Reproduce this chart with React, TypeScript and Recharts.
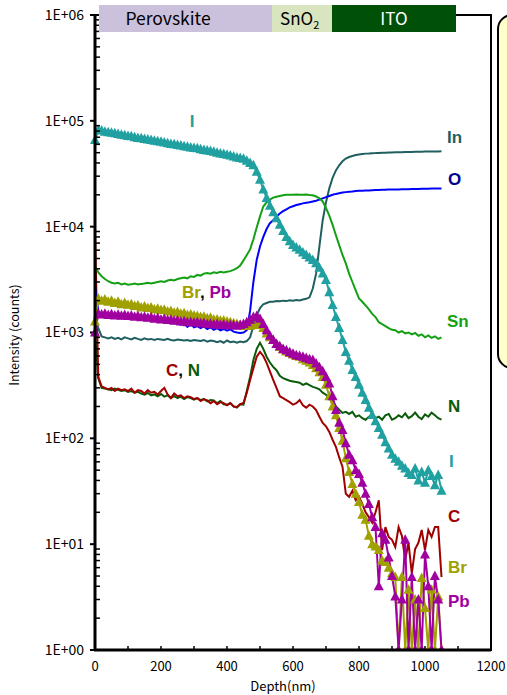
import React from 'react'
import { LineChart, Line, XAxis, YAxis } from 'recharts'

// depth grid (nm)
const depth = [
  0, 10, 20, 30, 40, 50, 60, 70, 80, 90,
  100, 110, 120, 130, 140, 150, 160, 170, 180, 190,
  200, 210, 220, 230, 240, 250, 260, 270, 280, 290,
  300, 310, 320, 330, 340, 350, 360, 370, 380, 390,
  400, 410, 420, 430, 440, 450, 460, 470, 480, 490,
  500, 510, 520, 530, 540, 550, 560, 570, 580, 590,
  600, 610, 620, 630, 640, 650, 660, 670, 680, 690,
  700, 710, 720, 730, 740, 750, 760, 770, 780, 790,
  800, 810, 820, 830, 840, 850, 860, 870, 880, 890,
  900, 910, 920, 930, 940, 950, 960, 970, 980, 990,
  1000, 1010, 1020, 1030, 1040, 1050,
]

const iodine = [
  66000, 82000, 81000, 79000, 78000, 77000, 76500, 75000, 74000, 73000,
  72000, 71500, 70000, 69000, 68500, 67500, 66500, 66000, 65000, 64000,
  63500, 62500, 61500, 60500, 60000, 59000, 58500, 57500, 57000, 56000,
  55500, 55000, 54000, 53000, 52500, 52000, 51000, 50000, 49000, 48500,
  47800, 47000, 46000, 45000, 44500, 43800, 42000, 40000, 38000, 33000,
  27700, 22500, 18700, 15800, 13700, 12000, 10400, 9100, 8000, 7300,
  6700, 6350, 6050, 5700, 5400, 5100, 4850, 4500, 4080, 3600,
  3140, 2400, 1820, 1400, 1100, 850, 656, 540, 443, 380,
  320, 270, 230, 195, 166, 145, 125, 108, 92, 80,
  70, 64, 60, 55, 52, 47, 45, 52, 40, 48,
  38, 50, 44, 36, 45, 32,
]

const indium = [
  1400, 1100, 920, 900, 880, 900, 870, 890, 860, 900,
  880, 860, 890, 870, 850, 880, 860, 870, 850, 870,
  860, 850, 870, 850, 840, 860, 850, 840, 850, 830,
  850, 840, 830, 850, 820, 840, 830, 810, 830, 800,
  840, 810, 820, 800, 820, 810, 830, 900, 1150, 1450,
  1700, 1850, 1900, 1950, 1950, 1980, 1970, 2000, 1980, 2020,
  2000, 2030, 2010, 2050, 2080, 2150, 2600, 3600, 6500, 11500,
  17000, 23000, 29000, 34000, 38000, 41500, 44000, 45500, 46500, 47500,
  48000, 48500, 49000, 49200, 49500, 49600, 49800, 50000, 50000, 50200,
  50300, 50400, 50500, 50500, 50700, 50800, 50800, 51000, 51000, 51100,
  51200, 51200, 51300, 51400, 51400, 51500,
]

const oxygen = [
  2700, 1600, 1420, 1400, 1380, 1400, 1370, 1390, 1360, 1380,
  1350, 1370, 1340, 1360, 1330, 1350, 1320, 1340, 1310, 1330,
  1300, 1280, 1300, 1260, 1240, 1270, 1180, 1220, 1130, 1200,
  1120, 1150, 1100, 1140, 1080, 1120, 1060, 1100, 1050, 1080,
  1040, 1070, 1020, 1000, 990, 1000, 1050, 1600, 3000, 4850,
  6500, 8000, 9500, 10800, 11500, 12500, 13300, 14000, 14600, 15200,
  15600, 16000, 16300, 16600, 16800, 17000, 17300, 17600, 18000, 18500,
  19000, 19500, 20000, 20400, 20700, 21000, 21200, 21400, 21500, 21700,
  21800, 21900, 22000, 22000, 22100, 22200, 22200, 22300, 22300, 22400,
  22400, 22500, 22500, 22600, 22600, 22600, 22700, 22700, 22700, 22800,
  22800, 22800, 22900, 22900, 22900, 23000,
]

const tin = [
  4200, 3700, 3400, 3200, 3050, 2950, 2900, 2950, 2850, 2900,
  2830, 2850, 2900, 2850, 2880, 2900, 2950, 2900, 2950, 3000,
  3050, 3000, 3100, 3150, 3100, 3200, 3250, 3300, 3250, 3400,
  3350, 3500, 3450, 3600, 3650, 3600, 3700, 3650, 3750, 3700,
  3750, 3800, 3900, 4050, 4300, 4800, 5400, 6100, 7600, 9800,
  12500, 15500, 17000, 18000, 18800, 19200, 19500, 19800, 20000, 20000,
  20000, 20100, 20000, 20000, 20100, 19900, 19800, 19300, 18500, 17300,
  15000, 12700, 10400, 8300, 6700, 5400, 4500, 3600, 3000, 2500,
  2100, 1950, 1800, 1650, 1500, 1400, 1250, 1200, 1150, 1100,
  1060, 1050, 1000, 1030, 980, 1000, 960, 990, 930, 960,
  900, 940, 890, 920, 870, 900,
]

const bromine = [
  1270, 2100, 2000, 2050, 1950, 2000, 1900, 1950, 1850, 1900,
  1830, 1850, 1780, 1800, 1720, 1760, 1700, 1720, 1650, 1680,
  1630, 1640, 1580, 1600, 1540, 1560, 1500, 1520, 1460, 1480,
  1450, 1430, 1400, 1410, 1360, 1380, 1320, 1330, 1290, 1300,
  1270, 1250, 1220, 1200, 1180, 1160, 1150, 1160, 1180, 1200,
  1180, 1100, 980, 900, 850, 780, 730, 690, 660, 640,
  620, 600, 590, 560, 540, 520, 494, 460, 420, 380,
  320, 250, 200, 165, 125, 95, 65, 48, 37, 30,
  25, 19, 17, 12, 10, 9.5, 8.8, 7, 6.8, 6,
  5.3, 4.9, 1, 4.9, 1, 3.7, 1, 3, 1, 4.8,
  2.5, 1, 3.7, 1, 3.2, 1,
]

const lead = [
  1000, 1500, 1480, 1500, 1460, 1490, 1450, 1470, 1440, 1460,
  1430, 1450, 1410, 1430, 1390, 1410, 1380, 1390, 1350, 1370,
  1330, 1340, 1310, 1320, 1290, 1300, 1270, 1280, 1250, 1260,
  1240, 1250, 1220, 1230, 1200, 1210, 1190, 1200, 1180, 1190,
  1170, 1180, 1170, 1160, 1180, 1200, 1250, 1320, 1400, 1430,
  1350, 1200, 1050, 930, 850, 780, 740, 700, 680, 650,
  630, 610, 600, 590, 575, 560, 550, 510, 470, 430,
  380, 330, 250, 185, 140, 120, 90, 70, 62, 50,
  46, 38, 30, 24, 18, 14.5, 4, 12.7, 11, 7.5,
  5, 3.2, 1, 3, 11, 1, 4.9, 1, 3, 1,
  8, 4, 1, 5, 3, 1,
]

const carbon = [
  9000, 380, 310, 300, 290, 300, 280, 295, 285, 290,
  280, 295, 270, 285, 280, 265, 285, 270, 275, 260,
  280, 300, 260, 240, 265, 250, 255, 240, 250, 245,
  235, 240, 225, 235, 228, 215, 225, 210, 220, 215,
  205, 215, 200, 198, 210, 216, 270, 356, 460, 590,
  656, 600, 516, 430, 356, 300, 250, 240, 230, 220,
  208, 215, 230, 205, 195, 208, 200, 185, 160, 140,
  130, 115, 97, 83, 66, 54, 30, 28, 32, 26,
  28, 24, 20, 18, 16, 20, 26, 8.8, 14.5, 11.7,
  11, 9.4, 14.5, 12, 7.1, 10.3, 5.3, 9, 10.3, 13.6,
  8.8, 13.6, 11.7, 14.5, 14.5, 4.9,
]

const nitrogen = [
  1000, 370, 300, 295, 290, 285, 295, 287, 280, 285,
  275, 280, 270, 275, 265, 258, 268, 255, 260, 250,
  262, 248, 255, 240, 250, 240, 248, 235, 245, 240,
  232, 240, 230, 235, 223, 230, 228, 215, 225, 210,
  208, 215, 200, 195, 210, 208, 280, 380, 550, 700,
  800, 700, 590, 520, 473, 440, 390, 370, 360, 350,
  345, 340, 335, 320, 330, 318, 306, 300, 290, 270,
  258, 240, 230, 200, 186, 174, 178, 170, 178, 160,
  165, 155, 150, 160, 166, 155, 160, 150, 165, 170,
  150, 155, 165, 158, 172, 155, 162, 175, 160, 152,
  168, 160, 175, 165, 155, 150,
]

const yTicks = [1, 10, 100, 1000, 10000, 100000, 1000000]
const xTicks = [0, 100, 200, 300, 400, 500, 600, 700, 800, 900, 1000, 1100, 1200]

const TICK_FONT = '"Noto Sans CJK JP", "Noto Sans", sans-serif'
const LABEL_FONT = '"Liberation Sans", Arial, sans-serif'

const C_I = '#20a0a0'
const C_IN = '#1f5f5f'
const C_O = '#0000ff'
const C_SN = '#14a014'
const C_BR = '#a0a000'
const C_PB = '#a000a0'
const C_C = '#a00000'
const C_N = '#0a5a0a'

// plot box (px)
const PL = 95
const PR = 491
const PT = 15
const PB = 650

const data = depth.map((d, i) => ({
  depth: d,
  I: iodine[i],
  In: indium[i],
  O: oxygen[i],
  Sn: tin[i],
  Br: bromine[i],
  Pb: lead[i],
  C: carbon[i],
  N: nitrogen[i],
}))

function triangleDot(color: string) {
  // eslint-disable-next-line @typescript-eslint/no-explicit-any
  return (p: any) => {
    const { cx, cy, index } = p
    if (cx == null || cy == null || isNaN(cy)) return <g key={`t-${index}`} />
    return (
      <polygon
        key={`t-${index}`}
        points={`${cx},${cy - 5.5} ${cx - 5},${cy + 4} ${cx + 5},${cy + 4}`}
        fill={color}
        stroke="none"
      />
    )
  }
}

function Overlay() {
  const decade = (PB - PT) / 6
  const minor: number[] = []
  for (let k = 0; k < 6; k++) {
    for (let m = 2; m <= 9; m++) minor.push(PB - (k + Math.log10(m)) * decade)
  }
  const lbl = { fontFamily: LABEL_FONT, fontWeight: 700, fontSize: 17 }
  return (
    <svg
      width={507}
      height={695}
      style={{ position: 'absolute', left: 0, top: 0, pointerEvents: 'none' }}
    >
      {minor.map((y, i) => (
        <line key={i} x1={PL} x2={PL + 5} y1={y} y2={y} stroke="#000" strokeWidth={1.5} />
      ))}
      <rect x={PL} y={PT} width={PR - PL} height={PB - PT} fill="none" stroke="#000" strokeWidth={2} />
      <line x1={PL} x2={PL} y1={PT} y2={PB + 1} stroke="#000" strokeWidth={3} />
      <line x1={PL - 1} x2={PR} y1={PB} y2={PB} stroke="#000" strokeWidth={3} />

      {/* layer bar */}
      <rect x={99} y={5} width={173} height={27} fill="#cbc1dc" />
      <rect x={272} y={5} width={60} height={27} fill="#d8e5be" />
      <rect x={332} y={5} width={124} height={27} fill="#005008" />
      <text x={168} y={25} textAnchor="middle" fontSize={17.5} fontFamily={TICK_FONT} fill="#000">
        Perovskite
      </text>
      <text x={280} y={25} fontSize={17} fontFamily={TICK_FONT} fill="#000">
        SnO<tspan fontSize={11} dy={4}>2</tspan>
      </text>
      <text x={394} y={25} textAnchor="middle" fontSize={17} fontFamily={TICK_FONT} fill="#fff">
        ITO
      </text>

      {/* side box */}
      <rect x={498} y={15} width={40} height={353} rx={14} fill="#ffffcc" stroke="#000" strokeWidth={2} />

      {/* element labels */}
      <text x={192} y={127} textAnchor="middle" fill={C_I} {...lbl}>I</text>
      <text x={447} y={143} fill={C_IN} {...lbl}>In</text>
      <text x={448} y={185} fill="#000090" {...lbl}>O</text>
      <text x={447} y={327} fill={C_SN} {...lbl}>Sn</text>
      <text x={182} y={298} {...lbl}>
        <tspan fill={C_BR}>Br</tspan>
        <tspan fill="#000">, </tspan>
        <tspan fill={C_PB}>Pb</tspan>
      </text>
      <text x={166} y={376} {...lbl}>
        <tspan fill={C_C}>C</tspan>
        <tspan fill="#000">, </tspan>
        <tspan fill={C_N}>N</tspan>
      </text>
      <text x={448} y={412} fill={C_N} {...lbl}>N</text>
      <text x={449} y={467} fill={C_I} {...lbl}>I</text>
      <text x={448} y={522} fill={C_C} {...lbl}>C</text>
      <text x={448} y={573} fill={C_BR} {...lbl}>Br</text>
      <text x={448} y={607} fill={C_PB} {...lbl}>Pb</text>

      {/* axis titles */}
      <text
        transform="translate(19,335) rotate(-90)"
        textAnchor="middle"
        fontSize={12.5}
        fontFamily={TICK_FONT}
        fill="#000"
      >
        Intensity (counts)
      </text>
      <text x={283} y={691} textAnchor="middle" fontSize={13} fontFamily={TICK_FONT} fill="#000">
        Depth(nm)
      </text>
    </svg>
  )
}

export default function App() {
  return (
    <div style={{ position: 'absolute', left: 0, top: 0, width: 507, height: 695, background: '#fff' }}>
      <LineChart width={507} height={695} data={data} margin={{ top: PT, right: 507 - PR, bottom: 0, left: 0 }}>
        <XAxis
          dataKey="depth"
          type="number"
          domain={[0, 1200]}
          ticks={xTicks}
          interval={0}
          tickFormatter={(v: number) => (v % 200 === 0 ? String(v) : '')}
          tickSize={-4}
          tickMargin={16}
          height={45}
          axisLine={false}
          tickLine={{ stroke: '#000', strokeWidth: 1.5 }}
          tick={{ fill: '#000', fontSize: 13, fontFamily: TICK_FONT }}
        />
        <YAxis
          scale="log"
          domain={[1, 1000000]}
          ticks={yTicks}
          interval={0}
          allowDataOverflow
          tickFormatter={(v: number) => '1E+0' + Math.round(Math.log10(v))}
          width={95}
          tickSize={5}
          tickMargin={6}
          axisLine={false}
          tickLine={{ stroke: '#000', strokeWidth: 2 }}
          tick={{ fill: '#000', fontSize: 14, fontFamily: TICK_FONT }}
        />
        <Line dataKey="N" stroke={C_N} strokeWidth={2} dot={false} isAnimationActive={false} />
        <Line dataKey="C" stroke={C_C} strokeWidth={2} dot={false} isAnimationActive={false} />
        <Line dataKey="In" stroke={C_IN} strokeWidth={2} dot={false} isAnimationActive={false} />
        <Line dataKey="O" stroke={C_O} strokeWidth={2} dot={false} isAnimationActive={false} />
        <Line dataKey="Sn" stroke={C_SN} strokeWidth={2} dot={false} isAnimationActive={false} />
        <Line dataKey="Br" stroke={C_BR} strokeWidth={2} dot={triangleDot(C_BR)} isAnimationActive={false} />
        <Line dataKey="Pb" stroke={C_PB} strokeWidth={2} dot={triangleDot(C_PB)} isAnimationActive={false} />
        <Line dataKey="I" stroke={C_I} strokeWidth={2} dot={triangleDot(C_I)} isAnimationActive={false} />
      </LineChart>
      <Overlay />
    </div>
  )
}
